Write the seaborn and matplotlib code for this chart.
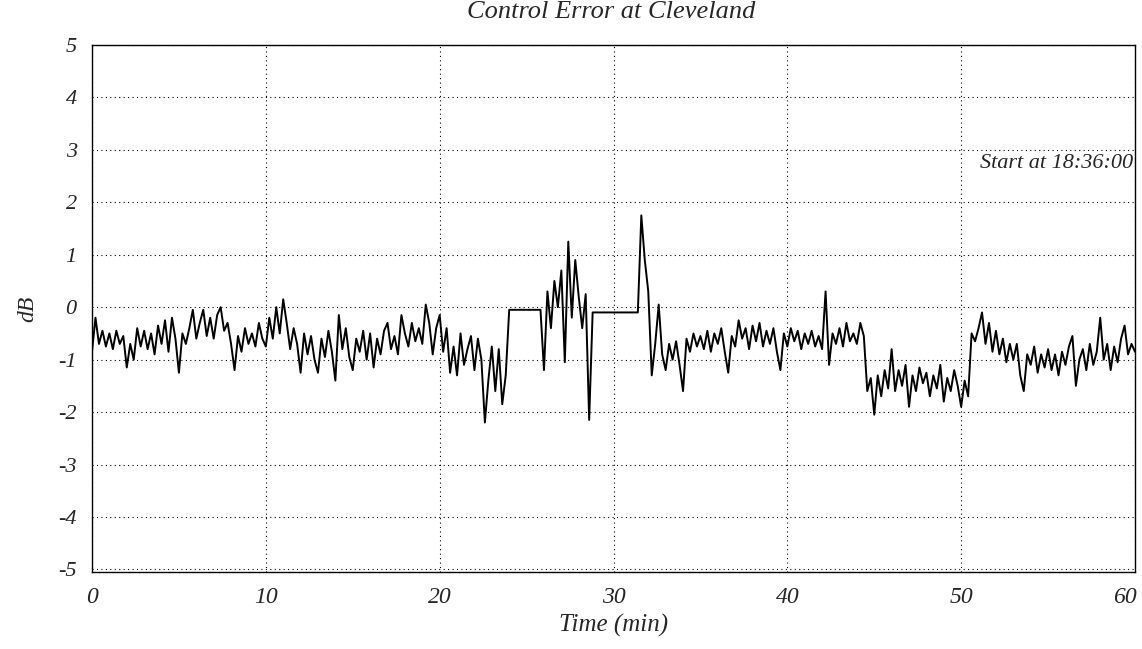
import numpy as np
import matplotlib
matplotlib.use("Agg")
import matplotlib.pyplot as plt
import matplotlib.transforms as mtransforms
import seaborn as sns

sample_step_min = 0.2
err_00_09 = [
    -0.85, -0.2, -0.7, -0.45, -0.75,
    -0.5, -0.8, -0.45, -0.7, -0.55,
    -1.15, -0.7, -1.0, -0.4, -0.75,
    -0.45, -0.8, -0.5, -0.9, -0.35,
    -0.7, -0.25, -0.85, -0.2, -0.6,
    -1.25, -0.5, -0.7, -0.4, -0.05,
    -0.6, -0.3, -0.05, -0.55, -0.2,
    -0.6, -0.15, 0.0, -0.45, -0.3,
    -0.7, -1.2, -0.55, -0.85, -0.4,
    -0.7, -0.5, -0.75, -0.3, -0.6,
]
err_10_19 = [
    -0.75, -0.2, -0.6, 0.0, -0.5,
    0.15, -0.3, -0.8, -0.4, -0.7,
    -1.25, -0.5, -0.9, -0.55, -1.0,
    -1.25, -0.6, -0.95, -0.45, -0.85,
    -1.4, -0.15, -0.8, -0.4, -0.95,
    -1.2, -0.6, -0.85, -0.45, -1.0,
    -0.5, -1.15, -0.6, -0.9, -0.45,
    -0.3, -0.8, -0.55, -0.9, -0.15,
    -0.5, -0.75, -0.3, -0.65, -0.4,
    -0.7, 0.05, -0.3, -0.9, -0.4,
]
err_20_29 = [
    -0.15, -0.85, -0.4, -1.25, -0.75,
    -1.3, -0.5, -1.1, -0.8, -0.55,
    -1.2, -0.6, -1.0, -2.2, -1.4,
    -0.75, -1.6, -0.8, -1.85, -1.3,
    -0.05, -0.05, -0.05, -0.05, -0.05,
    -0.05, -0.05, -0.05, -0.05, -0.05,
    -1.2, 0.3, -0.4, 0.5, 0.0,
    0.7, -1.05, 1.25, -0.2, 0.9,
    0.2, -0.4, 0.25, -2.15, -0.1,
    -0.1, -0.1, -0.1, -0.1, -0.1,
]
err_30_39 = [
    -0.1, -0.1, -0.1, -0.1, -0.1,
    -0.1, -0.1, -0.1, 1.75, 0.9,
    0.3, -1.3, -0.7, 0.05, -0.9,
    -1.2, -0.7, -1.0, -0.65, -1.1,
    -1.6, -0.6, -0.85, -0.5, -0.75,
    -0.55, -0.8, -0.45, -0.85, -0.5,
    -0.7, -0.4, -0.85, -1.25, -0.55,
    -0.75, -0.25, -0.6, -0.4, -0.8,
    -0.35, -0.65, -0.3, -0.75, -0.45,
    -0.7, -0.4, -0.85, -1.2, -0.5,
]
err_40_49 = [
    -0.75, -0.4, -0.65, -0.45, -0.8,
    -0.5, -0.7, -0.45, -0.75, -0.55,
    -0.8, 0.3, -1.1, -0.5, -0.7,
    -0.4, -0.75, -0.3, -0.65, -0.5,
    -0.7, -0.3, -0.55, -1.6, -1.35,
    -2.05, -1.3, -1.7, -1.2, -1.55,
    -0.8, -1.6, -1.2, -1.5, -1.1,
    -1.9, -1.3, -1.6, -1.15, -1.45,
    -1.25, -1.7, -1.3, -1.55, -1.1,
    -1.8, -1.35, -1.6, -1.2, -1.5,
]
err_50_60 = [
    -1.9, -1.4, -1.7, -0.5, -0.65,
    -0.4, -0.1, -0.7, -0.3, -0.85,
    -0.45, -0.9, -0.6, -1.05, -0.7,
    -1.0, -0.7, -1.3, -1.6, -0.9,
    -1.1, -0.75, -1.25, -0.9, -1.15,
    -0.8, -1.2, -0.9, -1.3, -0.85,
    -1.1, -0.75, -0.55, -1.5, -1.0,
    -0.8, -1.2, -0.7, -1.1, -0.85,
    -0.2, -1.0, -0.7, -1.2, -0.75,
    -1.05, -0.6, -0.35, -0.9, -0.7,
    -0.85,
]

x_ticks = [0, 10, 20, 30, 40, 50, 60]
y_ticks = [-5, -4, -3, -2, -1, 0, 1, 2, 3, 4, 5]
title_text = "Control Error at Cleveland"
x_label = "Time (min)"
y_label = "dB"
note_text = "Start at 18:36:00"

error_db = np.array(err_00_09 + err_10_19 + err_20_29 + err_30_39 + err_40_49 + err_50_60)
time_min = np.arange(len(error_db)) * sample_step_min

# ---- drawing ----
sns.set_theme(style="white")
plt.rcParams["font.family"] = ["Liberation Serif", "DejaVu Serif"]

fig = plt.figure(figsize=(11.42, 6.49), dpi=100)
ax = fig.add_axes([92 / 1142, 1 - 572 / 649, (1135 - 92) / 1142, (572 - 45) / 649])

sns.lineplot(x=time_min, y=error_db, ax=ax, color="black", linewidth=1.4,
             estimator=None, sort=False)

ax.set_xlim(0, 60)
ax.set_ylim(-5.05, 5.0)
ax.set_xticks(x_ticks)
ax.set_yticks(y_ticks)
ax.set_xticklabels([str(v) for v in x_ticks], fontsize=17, fontstyle="italic")
ax.set_yticklabels([str(v) for v in y_ticks], fontsize=16, fontstyle="italic")
ax.tick_params(axis="both", length=3, color="black", direction="out", pad=8)
ax.tick_params(axis="x", pad=8)

# keep the last x label inside the figure
last = ax.get_xticklabels()[-1]
last.set_transform(last.get_transform() + mtransforms.ScaledTranslation(-10 / 100, 0, fig.dpi_scale_trans))

ax.grid(True, color="black", linestyle=(0, (1, 3)), linewidth=0.8)
for s in ax.spines.values():
    s.set_color("black")
    s.set_linewidth(1.0)

ax.set_xlabel(x_label, fontsize=18, fontstyle="italic", labelpad=4)
ax.set_ylabel(y_label, fontsize=17, fontstyle="italic", labelpad=14)

ax.text(0.998, 0.775, note_text, transform=ax.transAxes, ha="right", va="center",
        fontsize=16, fontstyle="italic")

fig.text(0.535, 1 - 18 / 649, title_text, ha="center", va="baseline",
         fontsize=19, fontstyle="italic")

fig.savefig("out.png", dpi=100, facecolor="white")
